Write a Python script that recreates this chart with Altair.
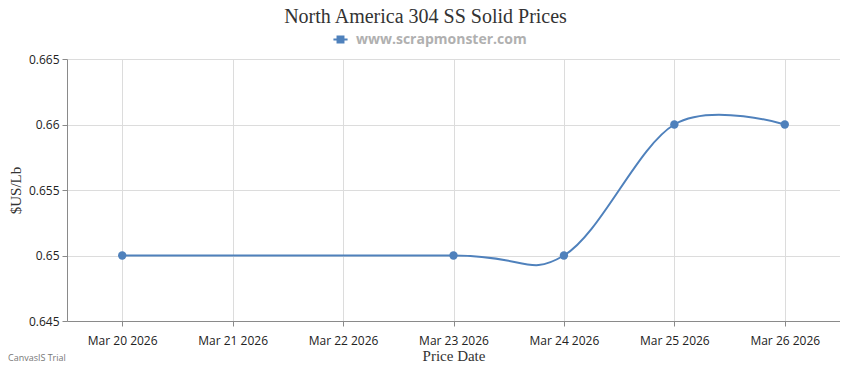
import altair as alt
import pandas as pd

dates = ["2026-03-20", "2026-03-23", "2026-03-24", "2026-03-25", "2026-03-26"]
prices = [0.65, 0.65, 0.65, 0.66, 0.66]
series_name = "www.scrapmonster.com"
tick_days = [20, 21, 22, 23, 24, 25, 26]
y_ticks = [0.645, 0.65, 0.655, 0.66, 0.665]

df = pd.DataFrame({"date": dates, "price": prices, "series": [series_name] * len(dates)})

blue = "#4f81bc"
grid = "#dcdcdc"
axis_col = "#8a8a8a"

x_enc = alt.X(
    "date:T",
    scale=alt.Scale(
        type="utc",
        domain=[
            alt.DateTime(year=2026, month=3, date=19, hours=12, utc=True),
            alt.DateTime(year=2026, month=3, date=26, hours=12, utc=True),
        ],
    ),
    axis=alt.Axis(
        title="Price Date",
        values=[alt.DateTime(year=2026, month=3, date=d, utc=True) for d in tick_days],
        labelExpr="utcFormat(datum.value, '%b %d %Y')",
        labelFont="Open Sans",
        labelFontSize=12,
        labelColor="#222",
        labelPadding=9,
        titleFont="Liberation Serif",
        titleFontSize=15,
        titleFontWeight="normal",
        titleColor="#333",
        titleY=39,
        titleBaseline="alphabetic",
        grid=True,
        gridColor=grid,
        domainColor=axis_col,
        tickColor=axis_col,
        tickSize=5,
    ),
)
y_enc = alt.Y(
    "price:Q",
    scale=alt.Scale(domain=[0.645, 0.665], nice=False, zero=False),
    axis=alt.Axis(
        title="$US/Lb",
        values=y_ticks,
        format="~g",
        labelFont="Open Sans",
        labelFontSize=12,
        labelColor="#222",
        labelPadding=3,
        titleFont="Liberation Serif",
        titleFontSize=15,
        titleFontWeight="normal",
        titleColor="#333",
        titleX=-52,
        titleY=131,
        titleAngle=-90,
        titleBaseline="middle",
        titleAlign="center",
        grid=True,
        gridColor=grid,
        domainColor=axis_col,
        tickColor=axis_col,
        tickSize=5,
    ),
)

line = alt.Chart(df).mark_line(interpolate="cardinal", strokeWidth=2).encode(
    x=x_enc,
    y=y_enc,
    color=alt.Color(
        "series:N",
        scale=alt.Scale(range=[blue]),
        legend=alt.Legend(
            title=None,
            orient="none",
            legendX=265,
            legendY=-28,
            symbolType="M-1,0L1,0M-0.42,-0.42L0.42,-0.42L0.42,0.42L-0.42,0.42Z",
            symbolSize=200,
            symbolStrokeWidth=2,
            symbolFillColor=blue,
            symbolStrokeColor=blue,
            labelFont="Open Sans",
            labelFontSize=14,
            labelFontWeight="bold",
            labelColor="#b0b0b0",
            labelOffset=7,
            labelLimit=400,
        ),
    ),
)

points = alt.Chart(df).mark_circle(size=70, opacity=1, color=blue).encode(
    x=x_enc,
    y=y_enc,
)

trial = alt.Chart(pd.DataFrame({"t": ["CanvasJS Trial"]})).mark_text(
    font="Open Sans", fontSize=9, color="#777", align="left", baseline="bottom"
).encode(text="t:N", x=alt.value(-59), y=alt.value(304))

chart = (
    alt.layer(line, points, trial)
    .properties(
        width=773,
        height=262,
        autosize=alt.AutoSizeParams(type="none"),
        padding={"left": 59, "top": 51, "right": 0, "bottom": 40},
        title=alt.TitleParams(
            "North America 304 SS Solid Prices",
            font="Liberation Serif",
            fontSize=20,
            fontWeight="normal",
            color="#333",
            anchor="middle",
            dx=-28,
            offset=4,
        ),
    )
    .configure_view(stroke=None)
)

chart.save("out.html", embed_options={"renderer": "svg", "actions": False})
